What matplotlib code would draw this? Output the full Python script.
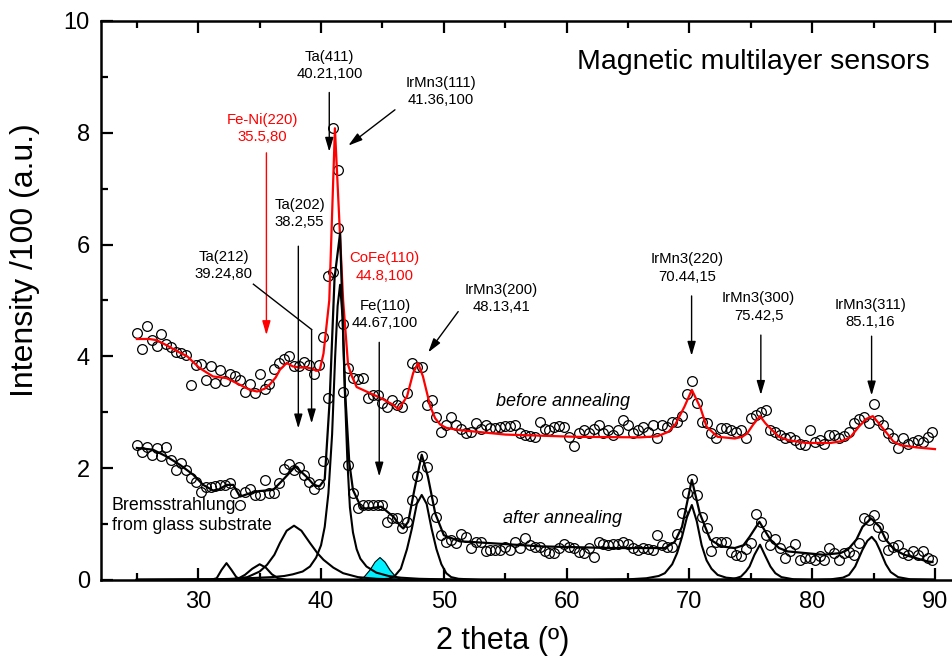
import matplotlib

matplotlib.use("Agg")
import matplotlib.pyplot as plt

plt.rcParams["font.family"] = ["Liberation Sans", "DejaVu Sans"]

# measured scan (2 theta, degrees) shared by both samples
two_theta = [
    25.0, 25.4, 25.8, 26.2, 26.6, 27.0, 27.4, 27.8, 28.2, 28.6,
    29.0, 29.4, 29.8, 30.2, 30.6, 31.0, 31.4, 31.8, 32.2, 32.6,
    33.0, 33.4, 33.8, 34.2, 34.6, 35.0, 35.4, 35.8, 36.2, 36.6,
    37.0, 37.4, 37.8, 38.2, 38.6, 39.0, 39.4, 39.8, 40.2, 40.6,
    41.0, 41.4, 41.8, 42.2, 42.6, 43.0, 43.4, 43.8, 44.2, 44.6,
    45.0, 45.4, 45.8, 46.2, 46.6, 47.0, 47.4, 47.8, 48.2, 48.6,
    49.0, 49.4, 49.8, 50.2, 50.6, 51.0, 51.4, 51.8, 52.2, 52.6,
    53.0, 53.4, 53.8, 54.2, 54.6, 55.0, 55.4, 55.8, 56.2, 56.6,
    57.0, 57.4, 57.8, 58.2, 58.6, 59.0, 59.4, 59.8, 60.2, 60.6,
    61.0, 61.4, 61.8, 62.2, 62.6, 63.0, 63.4, 63.8, 64.2, 64.6,
    65.0, 65.4, 65.8, 66.2, 66.6, 67.0, 67.4, 67.8, 68.2, 68.6,
    69.0, 69.4, 69.8, 70.2, 70.6, 71.0, 71.4, 71.8, 72.2, 72.6,
    73.0, 73.4, 73.8, 74.2, 74.6, 75.0, 75.4, 75.8, 76.2, 76.6,
    77.0, 77.4, 77.8, 78.2, 78.6, 79.0, 79.4, 79.8, 80.2, 80.6,
    81.0, 81.4, 81.8, 82.2, 82.6, 83.0, 83.4, 83.8, 84.2, 84.6,
    85.0, 85.4, 85.8, 86.2, 86.6, 87.0, 87.4, 87.8, 88.2, 88.6,
    89.0, 89.4, 89.8,
]

before_counts = [
    4.41, 4.13, 4.55, 4.30, 4.19, 4.40, 4.22, 4.16, 4.08, 4.06,
    4.03, 3.48, 3.85, 3.86, 3.58, 3.83, 3.52, 3.76, 3.55, 3.68,
    3.64, 3.57, 3.37, 3.50, 3.34, 3.68, 3.41, 3.50, 3.77, 3.88,
    3.95, 4.01, 3.83, 3.82, 3.89, 3.85, 3.68, 3.85, 4.34, 5.43,
    8.08, 7.33, 4.58, 3.79, 3.61, 3.59, 3.62, 3.25, 3.30, 3.31,
    3.16, 3.10, 3.22, 3.13, 3.10, 3.34, 3.88, 3.80, 3.80, 3.13,
    3.22, 2.92, 2.65, 2.77, 2.91, 2.77, 2.70, 2.62, 2.65, 2.80,
    2.70, 2.77, 2.71, 2.72, 2.74, 2.75, 2.75, 2.77, 2.62, 2.60,
    2.58, 2.56, 2.83, 2.70, 2.68, 2.74, 2.75, 2.74, 2.56, 2.40,
    2.62, 2.68, 2.62, 2.70, 2.77, 2.62, 2.68, 2.59, 2.68, 2.86,
    2.77, 2.62, 2.68, 2.74, 2.65, 2.77, 2.53, 2.77, 2.74, 2.83,
    2.83, 2.93, 3.33, 3.55, 3.17, 2.83, 2.80, 2.62, 2.53, 2.71,
    2.71, 2.68, 2.65, 2.68, 2.53, 2.90, 2.95, 3.01, 3.04, 2.68,
    2.65, 2.59, 2.53, 2.56, 2.50, 2.44, 2.41, 2.68, 2.47, 2.50,
    2.44, 2.59, 2.59, 2.53, 2.58, 2.65, 2.80, 2.88, 2.91, 2.81,
    3.14, 2.86, 2.78, 2.62, 2.53, 2.36, 2.53, 2.44, 2.47, 2.50,
    2.47, 2.56, 2.65,
]

after_counts = [
    2.41, 2.29, 2.38, 2.24, 2.36, 2.22, 2.38, 2.15, 1.97, 2.09,
    1.97, 1.82, 1.76, 1.58, 1.67, 1.67, 1.68, 1.70, 1.70, 1.74,
    1.55, 1.34, 1.58, 1.62, 1.52, 1.52, 1.79, 1.56, 1.55, 1.73,
    1.98, 2.07, 1.96, 2.02, 1.88, 1.76, 1.62, 1.71, 2.12, 3.25,
    5.50, 6.29, 3.37, 2.06, 1.55, 1.28, 1.34, 1.34, 1.34, 1.34,
    1.34, 1.04, 1.10, 1.10, 0.92, 1.04, 1.43, 1.85, 2.22, 2.02,
    1.43, 1.12, 0.80, 0.67, 0.72, 0.66, 0.82, 0.77, 0.57, 0.68,
    0.67, 0.52, 0.53, 0.53, 0.53, 0.59, 0.53, 0.68, 0.57, 0.75,
    0.63, 0.59, 0.59, 0.52, 0.48, 0.48, 0.57, 0.65, 0.59, 0.57,
    0.50, 0.48, 0.57, 0.41, 0.68, 0.65, 0.62, 0.65, 0.65, 0.67,
    0.65, 0.57, 0.53, 0.57, 0.55, 0.53, 0.80, 0.62, 0.59, 0.58,
    0.82, 1.20, 1.55, 1.80, 1.52, 1.13, 0.92, 0.51, 0.68, 0.68,
    0.68, 0.50, 0.45, 0.42, 0.55, 0.66, 1.18, 1.03, 0.80, 0.62,
    0.74, 0.57, 0.39, 0.51, 0.65, 0.36, 0.40, 0.39, 0.36, 0.42,
    0.36, 0.57, 0.48, 0.36, 0.48, 0.50, 0.45, 0.66, 1.10, 1.08,
    1.16, 0.95, 0.78, 0.53, 0.58, 0.62, 0.48, 0.45, 0.51, 0.45,
    0.51, 0.39, 0.35,
]

# fitted envelope, before annealing (red)
fit_before_x = [25.0, 26.0, 26.6, 27.4, 28.2, 29.1, 30.1, 31.2, 32.3, 33.4,
                34.2, 34.8, 35.4, 35.8, 36.3, 36.65, 37.2, 37.7, 38.2, 38.8,
                39.3, 39.6, 39.9, 40.2, 40.67, 41.13, 41.8, 42.2, 42.5, 42.9,
                44.0, 44.8, 45.9, 46.3, 47.0, 47.5, 47.9, 48.3, 48.9, 49.3,
                49.7, 50.2, 51.3, 55.0, 60.8, 66.0, 67.4, 68.3, 68.85, 69.6,
                70.2, 70.9, 71.4, 72.3, 73.7, 74.3, 74.7, 75.2, 75.75, 76.2,
                76.6, 77.3, 78.05, 79.5, 81.5, 82.35, 83.1, 83.8, 84.4, 84.94,
                85.5, 86.1, 86.6, 87.2, 88.5, 90.0]
fit_before_y = [4.31, 4.31, 4.29, 4.20, 4.10, 4.00, 3.79, 3.64, 3.61, 3.49,
                3.40, 3.37, 3.42, 3.49, 3.62, 3.76, 3.88, 3.82, 3.80, 3.80,
                3.78, 3.74, 3.76, 4.05, 5.00, 8.08, 5.00, 3.85, 3.65, 3.45,
                3.34, 3.26, 3.13, 3.05, 3.28, 3.70, 3.88, 3.64, 3.10, 2.89,
                2.78, 2.72, 2.68, 2.60, 2.56, 2.55, 2.57, 2.65, 2.78, 3.10,
                3.40, 3.08, 2.74, 2.56, 2.53, 2.56, 2.62, 2.78, 2.93, 2.80,
                2.71, 2.56, 2.50, 2.45, 2.45, 2.48, 2.55, 2.74, 2.88, 2.93,
                2.78, 2.62, 2.48, 2.41, 2.37, 2.34]

# fitted envelope, after annealing (black)
fit_after_x = [25.0, 26.3, 27.4, 28.5, 29.6, 30.4, 31.2, 31.7, 32.3, 32.85,
               33.4, 34.2, 35.0, 36.1, 36.9, 37.9, 38.8, 39.5, 39.9, 40.3,
               40.7, 41.1, 41.55, 41.95, 42.3, 42.6, 43.3, 44.0, 44.9, 45.9,
               46.4, 46.7, 47.1, 47.6, 48.2, 48.7, 49.3, 50.0, 51.3, 52.2,
               57.9, 63.7, 68.0, 68.8, 69.4, 70.2, 70.85, 71.7, 72.6, 73.7,
               74.4, 74.9, 75.7, 76.6, 77.3, 78.0, 80.9, 82.3, 82.9, 83.6,
               84.1, 84.8, 85.5, 86.0, 86.7, 87.5, 89.4, 89.8]
fit_after_y = [2.36, 2.33, 2.21, 2.06, 1.88, 1.70, 1.60, 1.62, 1.70, 1.70,
               1.49, 1.55, 1.59, 1.61, 1.79, 2.03, 1.85, 1.68, 1.68, 1.80,
               3.20, 5.40, 6.20, 3.40, 2.10, 1.61, 1.28, 1.28, 1.31, 1.13,
               0.98, 0.92, 1.04, 1.61, 2.24, 1.85, 1.19, 0.80, 0.69, 0.68,
               0.60, 0.57, 0.57, 0.68, 0.95, 1.79, 1.19, 0.72, 0.60, 0.57,
               0.62, 0.77, 1.04, 0.72, 0.57, 0.51, 0.45, 0.48, 0.54, 0.72,
               0.95, 1.10, 0.95, 0.72, 0.54, 0.45, 0.33, 0.32]

# deconvoluted components of the annealed pattern
brems1_x = [25.0, 31.0, 31.5, 31.9, 32.3, 32.7, 33.1, 33.5, 34.0, 90.0]
brems1_y = [0.0, 0.0, 0.03, 0.18, 0.30, 0.18, 0.05, 0.01, 0.0, 0.0]
brems2_x = [25.0, 32.5, 33.3, 33.8, 34.4, 35.0, 35.5, 36.0, 36.5, 37.2, 90.0]
brems2_y = [0.0, 0.0, 0.03, 0.09, 0.20, 0.28, 0.22, 0.10, 0.03, 0.0, 0.0]
ta_x = [25.0, 31.0, 33.0, 34.0, 35.0, 35.6, 36.2, 36.65, 37.2, 37.8, 38.4,
        39.1, 39.7, 40.2, 41.0, 41.8, 43.0, 44.5, 47.0, 90.0]
ta_y = [0.0, 0.01, 0.02, 0.05, 0.15, 0.27, 0.45, 0.66, 0.88, 0.97, 0.88,
        0.66, 0.48, 0.36, 0.22, 0.12, 0.05, 0.02, 0.0, 0.0]
irmn111_x = [25.0, 32.0, 36.0, 37.0, 37.7, 38.5, 39.1, 39.6, 40.0, 40.3, 40.6,
             40.9, 41.15, 41.35, 41.55, 41.75, 41.95, 42.15, 42.35, 42.6, 42.9,
             43.2, 43.7, 44.5, 45.5, 46.5, 48.0, 52.0, 90.0]
irmn111_y = [0.0, 0.01, 0.05, 0.07, 0.10, 0.15, 0.24, 0.40, 0.62, 0.95, 1.55,
             2.60, 4.00, 4.90, 5.28, 4.70, 3.30, 2.10, 1.30, 0.85, 0.55,
             0.38, 0.24, 0.13, 0.07, 0.04, 0.02, 0.0, 0.0]
fe110_x = [43.0, 43.5, 44.0, 44.4, 44.8, 45.2, 45.6, 46.1, 46.6]
fe110_y = [0.0, 0.05, 0.18, 0.32, 0.40, 0.32, 0.18, 0.05, 0.0]
irmn200_x = [25.0, 44.0, 45.5, 46.0, 46.5, 47.0, 47.4, 47.8, 48.2, 48.6, 49.0,
             49.4, 49.8, 50.2, 50.6, 51.2, 53.0, 90.0]
irmn200_y = [0.0, 0.0, 0.02, 0.07, 0.20, 0.55, 0.92, 1.36, 1.52, 1.36, 0.92,
             0.55, 0.28, 0.12, 0.05, 0.02, 0.0, 0.0]
irmn220_x = [25.0, 62.0, 65.0, 66.5, 67.5, 68.0, 68.6, 69.0, 69.4, 69.8, 70.2,
             70.6, 71.0, 71.4, 71.8, 72.3, 73.0, 74.0, 75.0, 78.0, 90.0]
irmn220_y = [0.0, 0.0, 0.01, 0.03, 0.07, 0.12, 0.28, 0.48, 0.77, 1.12, 1.34,
             1.05, 0.62, 0.35, 0.20, 0.09, 0.04, 0.02, 0.01, 0.0, 0.0]
irmn300_x = [25.0, 72.0, 73.5, 74.2, 74.6, 74.9, 75.3, 75.75, 76.2, 76.6, 77.0,
             77.5, 78.5, 80.0, 90.0]
irmn300_y = [0.0, 0.0, 0.01, 0.06, 0.15, 0.24, 0.45, 0.63, 0.42, 0.24, 0.12,
             0.05, 0.01, 0.0, 0.0]
irmn311_x = [25.0, 80.0, 81.5, 82.5, 83.0, 83.5, 84.1, 84.5, 84.85, 85.2, 85.5,
             86.0, 86.4, 87.0, 88.0, 89.8]
irmn311_y = [0.0, 0.0, 0.01, 0.04, 0.09, 0.24, 0.54, 0.70, 0.77, 0.68, 0.54,
             0.28, 0.14, 0.05, 0.01, 0.0]

# reflection labels: text, text x, text y, colour
labels = [
    ("Fe-Ni(220)\n35.5,80", 35.25, 8.07, "red"),
    ("Ta(212)\n39.24,80", 32.05, 5.63, "black"),
    ("Ta(202)\n38.2,55", 38.25, 6.55, "black"),
    ("Ta(411)\n40.21,100", 40.68, 9.20, "black"),
    ("IrMn3(111)\n41.36,100", 49.74, 8.74, "black"),
    ("CoFe(110)\n44.8,100", 45.14, 5.60, "red"),
    ("Fe(110)\n44.67,100", 45.20, 4.75, "black"),
    ("IrMn3(200)\n48.13,41", 54.70, 5.04, "black"),
    ("IrMn3(220)\n70.44,15", 69.82, 5.58, "black"),
    ("IrMn3(300)\n75.42,5", 75.64, 4.88, "black"),
    ("IrMn3(311)\n85.1,16", 84.72, 4.76, "black"),
]
# arrows: start (x, y) -> tip (x, y), colour
arrows = [
    ((35.55, 7.64), (35.55, 4.38), "red"),
    ((38.15, 5.97), (38.15, 2.71), "black"),
    ((39.23, 4.48), (39.23, 2.80), "black"),
    ((40.67, 8.72), (40.67, 7.66), "black"),
    ((46.02, 8.41), (42.22, 7.77), "black"),
    ((44.74, 4.25), (44.74, 1.85), "black"),
    ((51.17, 4.80), (48.73, 4.07), "black"),
    ((70.18, 5.08), (70.18, 4.01), "black"),
    ((75.82, 4.38), (75.82, 3.31), "black"),
    ((84.84, 4.36), (84.84, 3.30), "black"),
]
ta212_leader_x = [34.49, 39.23]
ta212_leader_y = [5.29, 4.48]


fig = plt.figure(figsize=(9.53, 6.62), dpi=100)
ax = fig.add_axes([0.106, 0.124, 0.894, 0.8444])

components = [
    (brems1_x, brems1_y), (brems2_x, brems2_y), (ta_x, ta_y),
    (irmn111_x, irmn111_y), (irmn200_x, irmn200_y), (irmn220_x, irmn220_y),
    (irmn300_x, irmn300_y), (irmn311_x, irmn311_y),
]
for cx, cy in components:
    ax.plot(cx, cy, color="black", lw=1.5, zorder=3)
ax.fill_between(fe110_x, fe110_y, 0, color="#00f0ff", zorder=2)
ax.plot(fe110_x, fe110_y, color="black", lw=0.8, zorder=3)

ax.plot(two_theta, before_counts, "o", ms=7, mfc="none", mec="black", mew=0.9, zorder=4)
ax.plot(two_theta, after_counts, "o", ms=7, mfc="none", mec="black", mew=0.9, zorder=4)
ax.plot(fit_before_x, fit_before_y, color="red", lw=1.6, zorder=5)
ax.plot(fit_after_x, fit_after_y, color="black", lw=1.6, zorder=5)

for text, tx, ty, col in labels:
    ax.text(tx, ty, text, ha="center", va="center", fontsize=10.7,
            color=col, linespacing=1.3, zorder=6)
for (sx, sy), (ex, ey), col in arrows:
    ax.annotate("", xy=(ex, ey), xytext=(sx, sy),
                arrowprops=dict(arrowstyle="-|>,head_length=0.85,head_width=0.25",
                                color=col, lw=1.0, shrinkA=0, shrinkB=0,
                                mutation_scale=10), zorder=6)
ax.plot(ta212_leader_x, ta212_leader_y, color="black", lw=1.0, zorder=6)

ax.text(89.53, 9.27, "Magnetic multilayer sensors", ha="right", va="center", fontsize=20.5)
ax.text(59.67, 3.19, "before annealing", ha="center", va="center", fontsize=13, style="italic")
ax.text(59.66, 1.10, "after annealing", ha="center", va="center", fontsize=13, style="italic")
ax.text(22.95, 1.155, "Bremsstrahlung\nfrom glass substrate", ha="left", va="center",
        fontsize=12.8, linespacing=1.25, zorder=6)

ax.set_xlim(22.08, 91.47)
ax.set_ylim(0, 10)
ax.set_xticks([30, 40, 50, 60, 70, 80, 90])
ax.set_xticks([25, 35, 45, 55, 65, 75, 85], minor=True)
ax.set_yticks([0, 2, 4, 6, 8, 10])
ax.set_yticks([1, 3, 5, 7, 9], minor=True)
ax.tick_params(which="both", direction="in", top=True, right=False, width=1.6,
               labelsize=17)
ax.tick_params(which="major", length=8.5, pad=8)
ax.tick_params(which="minor", length=5)
ax.spines["right"].set_visible(False)
for side in ("left", "bottom", "top"):
    ax.spines[side].set_linewidth(1.8)

fig.text(0.5275, 0.032, "2 theta (\u00ba)", ha="center", va="center", fontsize=22)
fig.text(0.026, 0.607, "Intensity /100 (a.u.)", ha="center", va="center",
         fontsize=23, rotation=90)

fig.savefig("out.png", dpi=100)
